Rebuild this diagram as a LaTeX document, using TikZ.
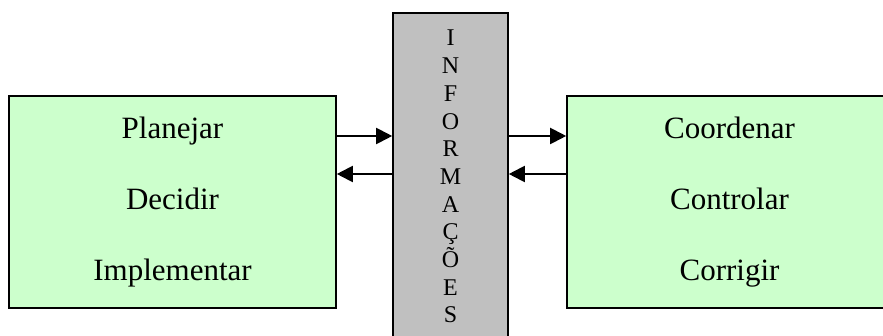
\documentclass[tikz,border=0pt]{standalone}
\usepackage{fontspec}
\setmainfont{Liberation Serif}
\usetikzlibrary{arrows.meta}
\definecolor{boxgreen}{HTML}{CCFFCC}
\definecolor{infogray}{HTML}{C0C0C0}
\begin{document}
\begin{tikzpicture}[x=1pt,y=-1pt,
  panel/.style={draw=black,line width=1.6pt,fill=boxgreen,minimum width=327pt,
    minimum height=212pt,align=center,inner sep=0pt,
    font=\fontsize{31}{71}\selectfont},
  infobar/.style={draw=black,line width=1.6pt,fill=infogray,minimum width=115pt,
    minimum height=380pt,inner sep=0pt},
  infoletters/.style={align=center,inner sep=0pt,font=\fontsize{24}{27.7}\selectfont},
  flow/.style={line width=2pt,-{Triangle[length=16pt,width=16pt]}}]
\useasboundingbox (0,0) rectangle (883,336);
\begin{scope}
  \clip (0,0) rectangle (883,336);
  % the two activity panels
  \node[panel] (left) at (172.5,202) {Planejar\\Decidir\\Implementar};
  \node[panel,minimum width=325pt] (right) at (729.5,202) {Coordenar\\Controlar\\Corrigir};
  % central information column
  \node[infobar] (info) at (450.5,203) {};
  \node[infoletters,anchor=north] (infotext) at (450.5,30)
    {I\\N\\F\\O\\R\\M\\A\\Ç\\Õ\\E\\S};
\end{scope}
% rows for the exchange arrows
\coordinate (r1) at (0,136);
\coordinate (r2) at (0,174);
\draw[flow] (left.east |- r1) -- (info.west |- r1);
\draw[flow] (info.west |- r2) -- (left.east |- r2);
\draw[flow] (info.east |- r1) -- (right.west |- r1);
\draw[flow] (right.west |- r2) -- (info.east |- r2);
\end{tikzpicture}
\end{document}
